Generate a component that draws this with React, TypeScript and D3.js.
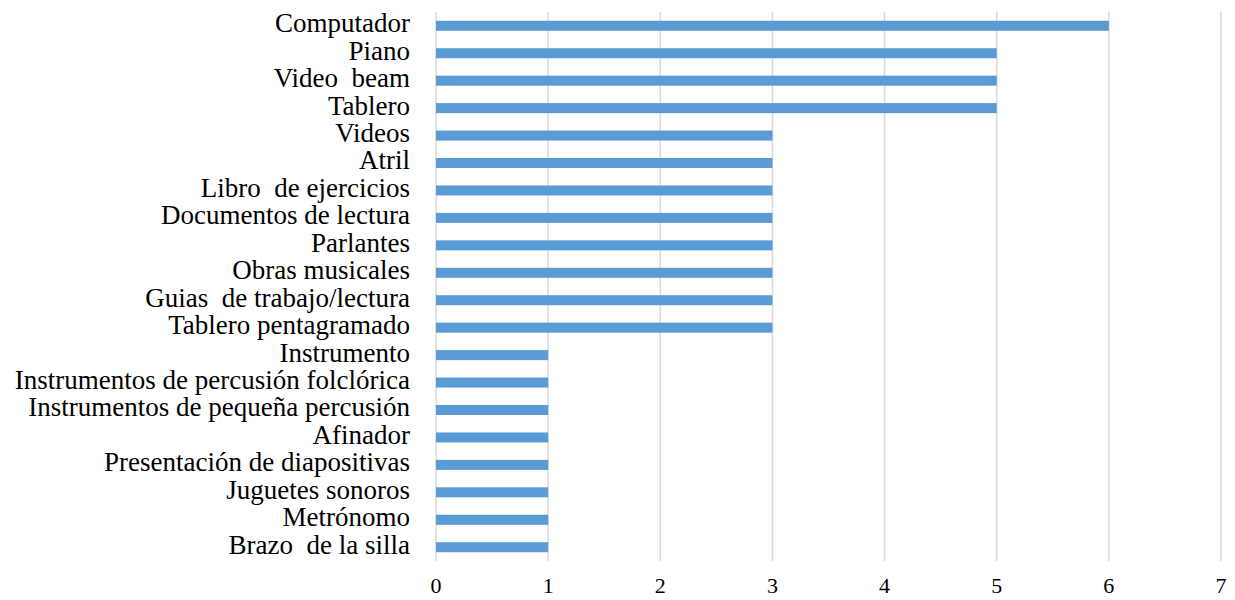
import React from "react";
import * as d3 from "d3";

const categories = [
  "Computador",
  "Piano",
  "Video  beam",
  "Tablero",
  "Videos",
  "Atril",
  "Libro  de ejercicios",
  "Documentos de lectura",
  "Parlantes",
  "Obras musicales",
  "Guias  de trabajo/lectura",
  "Tablero pentagramado",
  "Instrumento",
  "Instrumentos de percusión folclórica",
  "Instrumentos de pequeña percusión",
  "Afinador",
  "Presentación de diapositivas",
  "Juguetes sonoros",
  "Metrónomo",
  "Brazo  de la silla",
];

const values = [6, 5, 5, 5, 3, 3, 3, 3, 3, 3, 3, 3, 1, 1, 1, 1, 1, 1, 1, 1];

const xTicks = [0, 1, 2, 3, 4, 5, 6, 7];

const W = 1235;
const H = 600;
const plot = { left: 436, right: 1221, top: 12, bottom: 561 };

export default function App() {
  const x = d3.scaleLinear().domain([0, 7]).range([plot.left, plot.right]);
  const y = d3
    .scaleBand<string>()
    .domain(categories)
    .range([plot.top, plot.bottom])
    .paddingInner(0.635)
    .paddingOuter(0.32);

  return (
    <svg
      width={W}
      height={H}
      style={{ position: "absolute", left: 0, top: 0, background: "#fff" }}
      fontFamily="'Liberation Serif', 'Times New Roman', serif"
    >
      {xTicks.map((t) => (
        <line
          key={"g" + t}
          x1={x(t)}
          x2={x(t)}
          y1={plot.top}
          y2={plot.bottom}
          stroke="#d9d9d9"
          strokeWidth={1.5}
        />
      ))}
      {categories.map((c, i) => (
        <rect
          key={"b" + c}
          x={x(0)}
          y={y(c)!}
          width={x(values[i]) - x(0)}
          height={y.bandwidth()}
          fill="#5b9bd5"
        />
      ))}
      {categories.map((c) => (
        <text
          key={"l" + c}
          x={410}
          y={y(c)! + y.bandwidth() / 2}
          dy="0.24em"
          textAnchor="end"
          fontSize={27}
          fill="#000"
          style={{ whiteSpace: "pre" }}
        >
          {c}
        </text>
      ))}
      {xTicks.map((t) => (
        <text
          key={"t" + t}
          x={x(t)}
          y={593}
          textAnchor="middle"
          fontSize={22}
          fill="#000"
        >
          {t}
        </text>
      ))}
    </svg>
  );
}
